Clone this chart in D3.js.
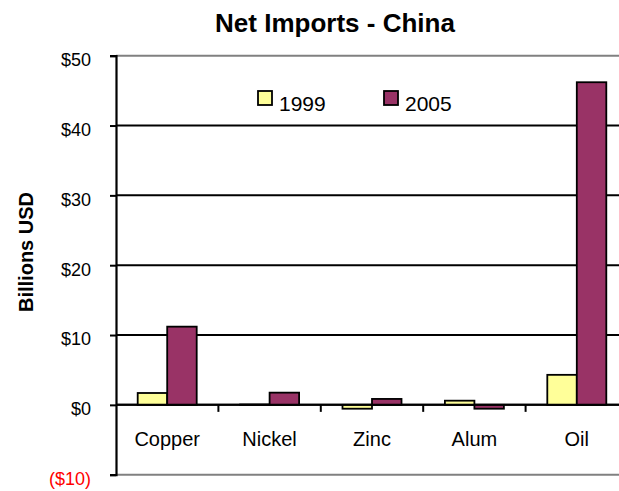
<!DOCTYPE html>
<html><head><meta charset="utf-8">
<script src="https://cdn.jsdelivr.net/npm/d3@7"></script>
<style>html,body{margin:0;padding:0;background:#fff;overflow:hidden}</style>
</head><body>
<svg id="c" width="619" height="491"></svg>
<script>
const categories = ["Copper","Nickel","Zinc","Alum","Oil"];
const seriesNames = ["1999","2005"];
const values1999 = [1.7, 0.05, -0.55, 0.6, 4.3];
const values2005 = [11.2, 1.75, 0.85, -0.55, 46.2];
const yTicks = [-10, 0, 10, 20, 30, 40, 50];
const yTickLabels = ["($10)","$0","$10","$20","$30","$40","$50"];
const colors = ["#FFFF99","#993366"];

const svg = d3.select("#c");
const font = "Liberation Sans, Arial, sans-serif";
const plotL = 116, plotR = 628, plotT = 55.7, plotB = 474.7;

const y = d3.scaleLinear().domain([-10, 50]).range([plotB, plotT]);
const x = d3.scaleBand().domain(categories).range([plotL, plotR]).padding(0);
const groupW = 59;
const xs = d3.scaleBand().domain(seriesNames).range([(x.bandwidth()-groupW)/2, (x.bandwidth()+groupW)/2]).padding(0);

// gridlines
svg.append("g").selectAll("line").data(yTicks).join("line")
  .attr("x1", plotL).attr("x2", 619)
  .attr("y1", d => y(d)).attr("y2", d => y(d))
  .attr("stroke", d => (d === 50 || d === -10) ? "#808080" : "#000")
  .attr("stroke-width", 2);

// bars
const data = categories.map((c,i) => ({c, vals: [values1999[i], values2005[i]]}));
const g = svg.append("g");
data.forEach(d => {
  d.vals.forEach((v, j) => {
    g.append("rect")
      .attr("x", x(d.c) + xs(seriesNames[j]))
      .attr("width", xs.bandwidth())
      .attr("y", y(Math.max(0, v)))
      .attr("height", Math.abs(y(v) - y(0)))
      .attr("fill", colors[j])
      .attr("stroke", "#000").attr("stroke-width", 1.8);
  });
});

// zero line
svg.append("line").attr("x1", plotL).attr("x2", 619).attr("y1", y(0)).attr("y2", y(0))
  .attr("stroke", "#000").attr("stroke-width", 2);

// category ticks
svg.append("g").selectAll("line").data(categories.slice(1)).join("line")
  .attr("x1", d => x(d)).attr("x2", d => x(d))
  .attr("y1", y(0)).attr("y2", y(0) + 7)
  .attr("stroke", "#000").attr("stroke-width", 2);

// y axis
const yAxis = d3.axisLeft(y).tickValues(yTicks).tickSize(6).tickPadding(19)
  .tickFormat((d,i) => yTickLabels[i]);
const ya = svg.append("g").attr("transform", `translate(${plotL},0)`).call(yAxis);
ya.select(".domain").attr("stroke", "#000").attr("stroke-width", 2.2);
ya.selectAll(".tick line").attr("stroke", "#000").attr("stroke-width", 2);
ya.selectAll(".tick text").attr("font-family", font).attr("font-size", 18)
  .attr("dy", "0.55em")
  .attr("fill", d => d < 0 ? "#FF0000" : "#000");

// category labels
svg.append("g").selectAll("text").data(categories).join("text")
  .attr("x", d => x(d) + x.bandwidth()/2).attr("y", 445.5)
  .attr("text-anchor", "middle").attr("font-family", font).attr("font-size", 20)
  .text(d => d);

// title
svg.append("text").attr("x", 335).attr("y", 31.5).attr("text-anchor", "middle")
  .attr("font-family", font).attr("font-size", 26).attr("font-weight", "bold")
  .text("Net Imports - China");

// y title
svg.append("text").attr("transform", "translate(33,252) rotate(-90)")
  .attr("text-anchor", "middle").attr("font-family", font).attr("font-size", 20)
  .attr("font-weight", "bold").text("Billions USD");

// legend
const legX = [258, 384];
const leg = svg.append("g");
seriesNames.forEach((s, i) => {
  leg.append("rect").attr("x", legX[i]).attr("y", 91).attr("width", 14).attr("height", 14)
    .attr("fill", colors[i]).attr("stroke", "#000").attr("stroke-width", 1.8);
  leg.append("text").attr("x", legX[i] + 21).attr("y", 111)
    .attr("font-family", font).attr("font-size", 21).text(s);
});
</script>
</body></html>
